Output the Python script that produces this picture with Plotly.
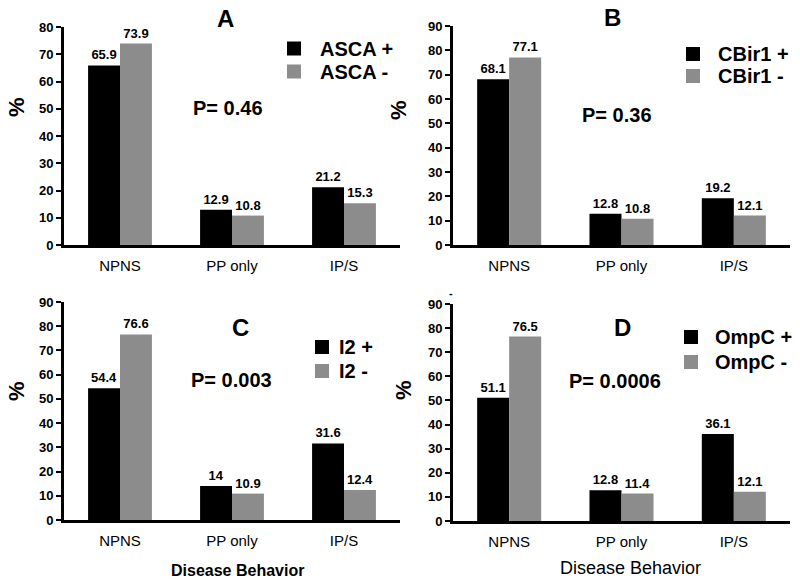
import plotly.graph_objects as go

categories = ["NPNS", "PP only", "IP/S"]

panel_letters = ["A", "B", "C", "D"]
marker_names = ["ASCA", "CBir1", "I2", "OmpC"]
p_values = ["P= 0.46", "P= 0.36", "P= 0.003", "P= 0.0006"]

asca_pos = [65.9, 12.9, 21.2]
asca_neg = [73.9, 10.8, 15.3]
cbir_pos = [68.1, 12.8, 19.2]
cbir_neg = [77.1, 10.8, 12.1]
i2_pos = [54.4, 14, 31.6]
i2_neg = [76.6, 10.9, 12.4]
ompc_pos = [51.1, 12.8, 36.1]
ompc_neg = [76.5, 11.4, 12.1]

y_max = [80, 90, 90, 90]

pos_series = [asca_pos, cbir_pos, i2_pos, ompc_pos]
neg_series = [asca_neg, cbir_neg, i2_neg, ompc_neg]

W, H = 800, 582
FONT = "Liberation Sans, Arial, Helvetica, sans-serif"
BLACK = "#000000"
GRAY = "#8c8c8c"

# pixel layout of each panel: (x_left, x_right, y_bottom, y_top)
panels_px = [
    (64, 400, 245, 27),
    (453, 790, 245, 26),
    (64, 400, 520, 302),
    (453, 790, 521, 304),
]
# legend: swatch left x, text left x, row-1 center y, row-2 center y
legend_px = [(287, 318, 48.5, 71.5), (686, 716, 54, 76), (315, 337, 347, 371), (684, 713, 337, 362)]
title_px = [(225, 18), (612, 17), (240, 327), (622, 327)]
p_px = [(228, 108), (617, 115), (232, 380), (615, 381)]
pct_px = [(16, 107), (398, 110), (17, 391), (404, 390)]
SQ = 14

def px(x):
    return x / W

def py(y):
    return 1 - y / H

fig = go.Figure()
layout = dict(
    width=W, height=H,
    margin=dict(l=0, r=0, t=0, b=0, autoexpand=False),
    paper_bgcolor="white", plot_bgcolor="white",
    barmode="group", bargap=0.43, bargroupgap=0.0,
    font=dict(family=FONT, color=BLACK),
    showlegend=False,
    annotations=[], shapes=[],
)

for i in range(4):
    suffix = "" if i == 0 else str(i + 1)
    xa = "x" + suffix
    ya = "y" + suffix
    names = [marker_names[i] + " +", marker_names[i] + " -"]
    for nm, vals, col in ((names[0], pos_series[i], BLACK), (names[1], neg_series[i], GRAY)):
        fig.add_trace(go.Bar(
            x=categories, y=vals, xaxis=xa, yaxis=ya, name=nm,
            marker=dict(color=col, line=dict(width=0)),
            text=[str(v) for v in vals], textposition="outside",
            textfont=dict(family=FONT, size=13, color=BLACK, weight="bold"),
            cliponaxis=False,
        ))
    xl, xr, yb, yt = panels_px[i]
    layout["xaxis" + suffix] = dict(
        domain=[px(xl), px(xr)], anchor=ya, range=[-0.5, 2.5],
        showline=True, linecolor=BLACK, linewidth=3, ticks="",
        showgrid=False, zeroline=False, automargin=False,
        tickfont=dict(family=FONT, size=15, color=BLACK),
        ticklabelstandoff=5, fixedrange=True,
    )
    layout["yaxis" + suffix] = dict(
        domain=[py(yb), py(yt)], anchor=xa, range=[0, y_max[i]],
        dtick=10, showline=True, linecolor=BLACK, linewidth=3,
        ticks="outside", ticklen=5, tickwidth=2, tickcolor=BLACK,
        showgrid=False, zeroline=False, automargin=False,
        tickfont=dict(family=FONT, size=13, color=BLACK, weight="bold"),
        fixedrange=True,
    )
    # legend drawn as swatch + label
    mx, tx0, r1, r2 = legend_px[i]
    for nm, col, cy in ((names[0], BLACK, r1), (names[1], GRAY, r2)):
        layout["shapes"].append(dict(
            type="rect", xref="paper", yref="paper",
            x0=px(mx), x1=px(mx + SQ), y0=py(cy + SQ / 2), y1=py(cy - SQ / 2),
            fillcolor=col, line=dict(width=0)))
        layout["annotations"].append(dict(
            text=nm, x=px(tx0), y=py(cy), xref="paper", yref="paper",
            showarrow=False, xanchor="left", yanchor="middle",
            font=dict(family=FONT, size=20, color=BLACK, weight="bold")))
    tx, ty = title_px[i]
    layout["annotations"].append(dict(
        text=panel_letters[i], x=px(tx), y=py(ty), xref="paper", yref="paper",
        showarrow=False, xanchor="center", yanchor="middle",
        font=dict(family=FONT, size=24, color=BLACK, weight="bold")))
    ppx, ppy = p_px[i]
    layout["annotations"].append(dict(
        text=p_values[i], x=px(ppx), y=py(ppy), xref="paper", yref="paper",
        showarrow=False, xanchor="center", yanchor="middle",
        font=dict(family=FONT, size=20, color=BLACK, weight="bold")))
    cx, cy = pct_px[i]
    layout["annotations"].append(dict(
        text="%", x=px(cx), y=py(cy), xref="paper", yref="paper",
        showarrow=False, xanchor="center", yanchor="middle", textangle=-90,
        font=dict(family=FONT, size=22, color=BLACK, weight="bold")))

layout["annotations"].append(dict(
    text="Disease Behavior", x=px(237), y=py(570), xref="paper", yref="paper",
    showarrow=False, xanchor="center", yanchor="middle",
    font=dict(family=FONT, size=16, color=BLACK, weight="bold")))
layout["annotations"].append(dict(
    text="Disease Behavior", x=px(630), y=py(568), xref="paper", yref="paper",
    showarrow=False, xanchor="center", yanchor="middle",
    font=dict(family=FONT, size=18, color=BLACK)))
layout["annotations"].append(dict(
    text="-", x=px(451), y=py(293), xref="paper", yref="paper",
    showarrow=False, xanchor="center", yanchor="middle",
    font=dict(family=FONT, size=11, color=BLACK, weight="bold")))

fig.update_layout(**layout)
fig.write_html(
    "out.html",
    config={"displayModeBar": False},
    post_script="document.body.style.margin='0';document.body.style.overflow='hidden';",
)
